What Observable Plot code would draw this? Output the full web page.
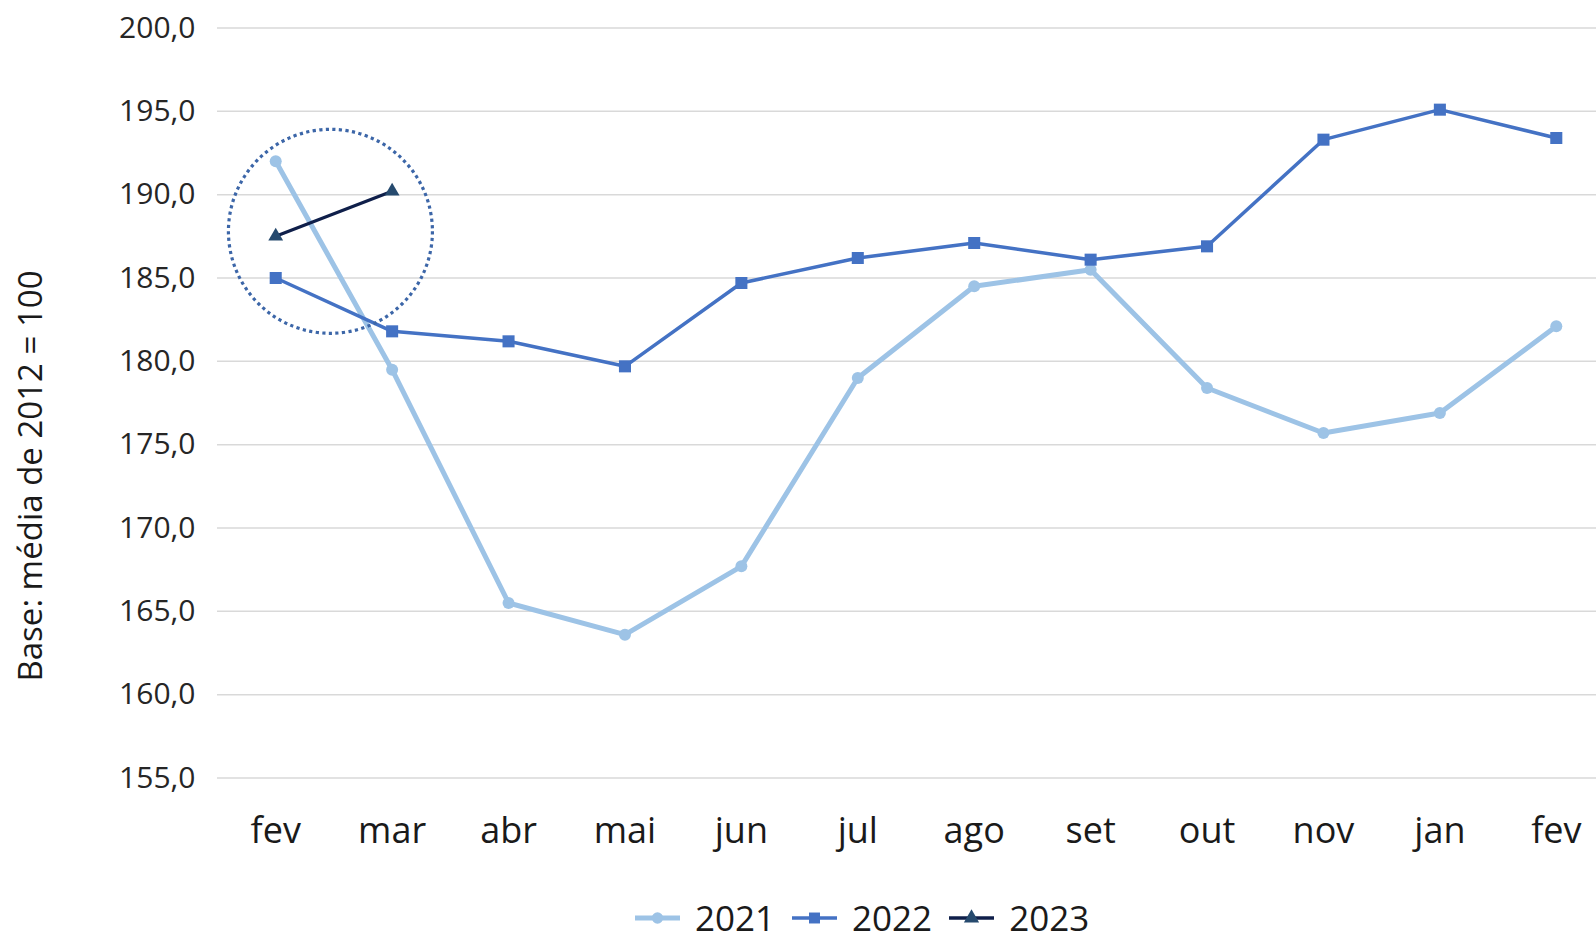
<!DOCTYPE html>
<html>
<head>
<meta charset="utf-8">
<script src="https://cdn.jsdelivr.net/npm/d3@7"></script>
<script src="https://cdn.jsdelivr.net/npm/@observablehq/plot@0.6"></script>
<style>
  html, body { margin: 0; padding: 0; background: #fff; }
  body { width: 1596px; height: 939px; overflow: hidden; position: relative; font-family: "Open Sans", sans-serif; }
  #legend { position: absolute; left: 635px; top: 900px; display: flex; align-items: center; font-size: 35px; line-height: 1; color: #1a1a1a; }
  #legend .item { display: flex; align-items: center; margin-right: 17px; }
  #legend svg { margin-right: 15px; }
</style>
</head>
<body>
<div id="chart"></div>
<div id="legend"></div>
<script>
const months = ["fev","mar","abr","mai","jun","jul","ago","set","out","nov","jan","fev"];
const series = ["2021", "2022", "2023"];
const values2021 = [192.0, 179.5, 165.5, 163.6, 167.7, 179.0, 184.5, 185.5, 178.4, 175.7, 176.9, 182.1];
const values2022 = [185.0, 181.8, 181.2, 179.7, 184.7, 186.2, 187.1, 186.1, 186.9, 193.3, 195.1, 193.4];
const values2023 = [187.5, 190.2];
const yTicks = [155, 160, 165, 170, 175, 180, 185, 190, 195, 200];
const highlight = [{x: 0.47, y: 187.8}];
const yTitle = "Base: média de 2012 = 100";

const colors = {"2021": "#9DC3E6", "2022": "#4472C4", "2023": "#1F3864"};
const symbols = {"2021": "circle", "2022": "square", "2023": "triangle"};

const toRows = (name, vals) => vals.map((v, i) => ({series: name, i, value: v}));
const rows2021 = toRows("2021", values2021);
const rows2022 = toRows("2022", values2022);
const rows2023 = toRows("2023", values2023);

const fmt = d => d.toFixed(1).replace(".", ",");

const chart = Plot.plot({
  width: 1596,
  height: 890,
  marginTop: 27.5,
  marginBottom: 112.5,
  marginLeft: 217,
  marginRight: 0,
  style: {fontFamily: "'Open Sans', sans-serif", background: "#fff"},
  x: {domain: [-0.5, 11.5], range: [217, 1614]},
  y: {domain: [155, 200]},
  marks: [
    Plot.ruleY(yTicks, {stroke: "#d9d9d9", strokeWidth: 1.5}),
    Plot.axisY({ticks: yTicks, tickSize: 0, tickPadding: 22, tickFormat: fmt, fontSize: 30, fill: "#262626", label: null}),
    Plot.axisX({ticks: d3.range(months.length), tickSize: 0, tickPadding: 39, tickFormat: i => months[i], fontSize: 36, fill: "#1a1a1a", label: null}),
    Plot.text([yTitle], {frameAnchor: "left", dx: -186.5, dy: 73, rotate: -90, fontSize: 33, fill: "#1a1a1a", textAnchor: "middle"}),
    Plot.line(rows2021, {x: "i", y: "value", stroke: colors["2021"], strokeWidth: 5}),
    Plot.dot(rows2021, {x: "i", y: "value", r: 6, fill: colors["2021"], symbol: "circle"}),
    Plot.line(rows2022, {x: "i", y: "value", stroke: colors["2022"], strokeWidth: 3.5}),
    Plot.dot(rows2022, {x: "i", y: "value", r: 6.8, fill: colors["2022"], symbol: "square"}),
    Plot.line(rows2023, {x: "i", y: "value", stroke: "#0F1F4A", strokeWidth: 3.2}),
    Plot.dot(rows2023, {x: "i", y: "value", r: 5.5, fill: "#264A6E", symbol: "triangle"}),
    Plot.dot(highlight, {x: "x", y: "y", r: 102, stroke: "#3C66A8", strokeWidth: 3.2, strokeDasharray: "3.2,3.4", fill: "none"})
  ]
});
document.getElementById("chart").appendChild(chart);

// Legend
const legend = document.getElementById("legend");
for (const s of series) {
  const item = document.createElement("div");
  item.className = "item";
  const sw = d3.create("svg").attr("width", 45).attr("height", 20);
  sw.append("line").attr("x1", 0).attr("x2", 45).attr("y1", 10).attr("y2", 10)
    .attr("stroke", s === "2023" ? "#0F1F4A" : colors[s]).attr("stroke-width", s === "2021" ? 5 : 3.5);
  const sym = {circle: d3.symbolCircle, square: d3.symbolSquare, triangle: d3.symbolTriangle}[symbols[s]];
  sw.append("path").attr("transform", "translate(22.5,10)")
    .attr("d", d3.symbol(sym, s === "2022" ? 120 : 100)())
    .attr("fill", s === "2023" ? "#264A6E" : colors[s]);
  item.appendChild(sw.node());
  const t = document.createElement("span");
  t.textContent = s;
  item.appendChild(t);
  legend.appendChild(item);
}
</script>
</body>
</html>
